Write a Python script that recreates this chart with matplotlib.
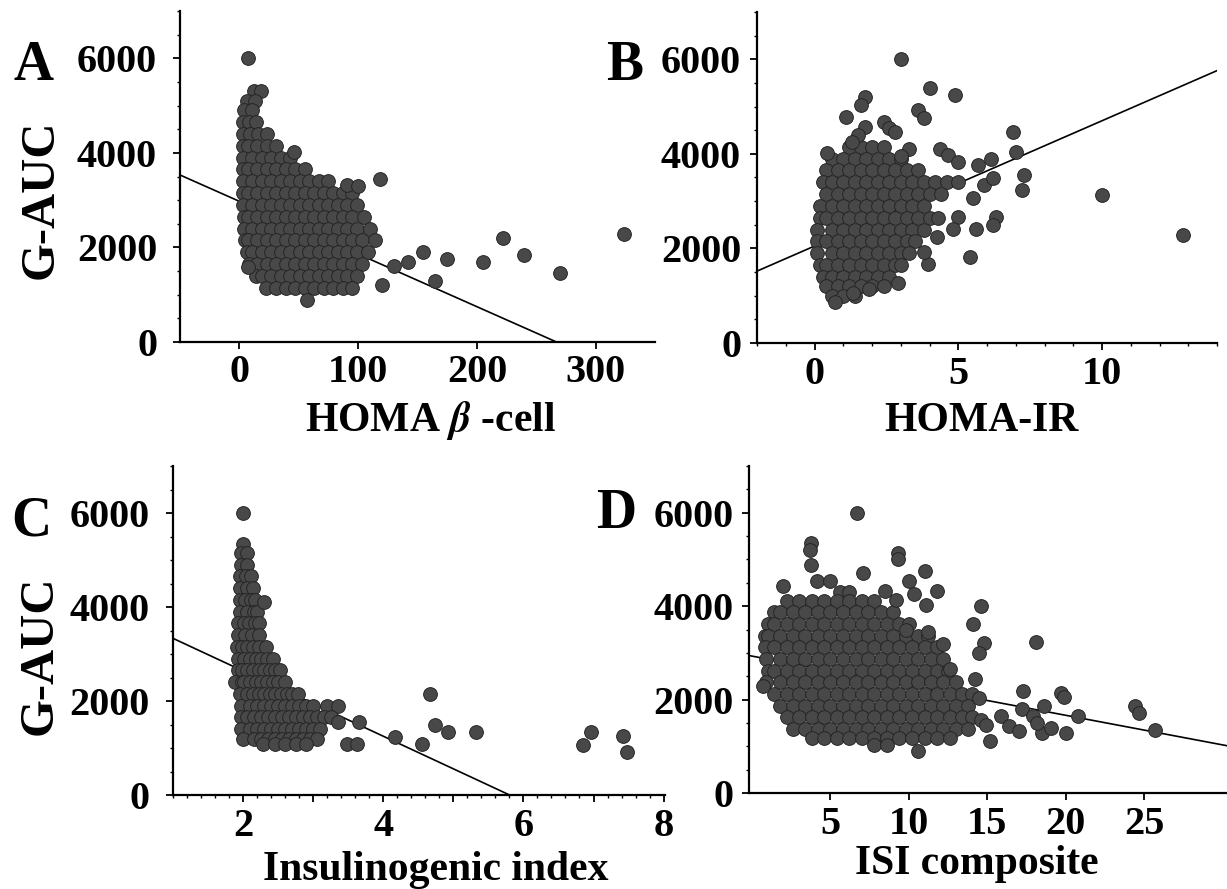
"""Four-panel scatter: G-AUC against HOMA beta-cell, HOMA-IR,
insulinogenic index and ISI composite, each with its regression line."""

import numpy as np
import matplotlib
matplotlib.use('Agg')
import matplotlib.pyplot as plt
from matplotlib.ticker import FixedLocator, MultipleLocator, FuncFormatter

plt.rcParams.update({
    'font.family': 'Liberation Serif',
    'font.weight': 'bold',
    'mathtext.fontset': 'stix',
})

W, H = 1227, 889

# ---------------------------------------------------------------------
# Panel A: HOMA beta-cell  (dense cloud read row by row + loose points)
# ---------------------------------------------------------------------
a_row_y = [5300, 5100, 4900, 4650, 4400, 4150, 3900, 3650, 3400, 3150,
           2900, 2650, 2400, 2150, 1900, 1650, 1400, 1150]
a_row_x = [
    [12, 18],
    [6, 13],
    [4, 11],
    [3, 8, 14],
    [3, 9, 16, 23],
    [3, 7, 15, 23, 31],
    [3, 11, 19, 27, 35, 43],
    [3, 7, 15, 23, 31, 39, 47, 55],
    [3, 11, 19, 27, 35, 43, 51, 59, 67, 75],
    [3, 7, 15, 23, 31, 39, 47, 55, 63, 71, 79, 87, 95],
    [3, 11, 19, 27, 35, 43, 51, 59, 67, 75, 83, 91, 99],
    [4, 7, 15, 23, 31, 39, 47, 55, 63, 71, 79, 87, 95, 105],
    [4, 11, 19, 27, 35, 43, 51, 59, 67, 75, 83, 91, 99, 110],
    [5, 7, 15, 23, 31, 39, 47, 55, 63, 71, 79, 87, 95, 103, 114],
    [6, 11, 19, 27, 35, 43, 51, 59, 67, 75, 83, 91, 99, 108],
    [8, 15, 23, 31, 39, 47, 55, 63, 71, 79, 87, 95, 103],
    [14, 19, 27, 35, 43, 51, 59, 67, 75, 83, 91, 99],
    [22, 31, 39, 47, 55, 63, 71, 79, 87, 95],
]
a_out_x = [7, 46, 57, 7, 91, 100, 118, 120, 130, 142, 155, 165, 175,
           205, 222, 240, 270, 324]
a_out_y = [6000, 4010, 880, 1580, 3310, 3300, 3450, 1200, 1600, 1700,
           1900, 1300, 1750, 1700, 2200, 1850, 1450, 2280]
a_fit = (2975, -11.14)

# ---------------------------------------------------------------------
# Panel B: HOMA-IR
# ---------------------------------------------------------------------
b_row_y = [4150, 3900, 3650, 3400, 3150, 2900, 2650, 2400, 2150, 1900,
           1650, 1400, 1200, 1000]
b_row_x = [
    [1.2, 1.6, 2.0, 2.4],
    [0.6, 1.0, 1.4, 1.8, 2.2, 2.6, 3.0],
    [0.4, 0.8, 1.2, 1.6, 2.0, 2.4, 2.8, 3.2, 3.6],
    [0.3, 0.6, 1.0, 1.4, 1.8, 2.2, 2.6, 3.0, 3.4, 3.8, 4.2, 4.6, 5.0],
    [0.4, 0.8, 1.2, 1.6, 2.0, 2.4, 2.8, 3.2, 3.6, 4.0, 4.4],
    [0.2, 0.6, 1.0, 1.4, 1.8, 2.2, 2.6, 3.0, 3.4, 3.8],
    [0.2, 0.4, 0.8, 1.2, 1.6, 2.0, 2.4, 2.8, 3.2, 3.6, 4.0, 4.3],
    [0.1, 0.6, 1.0, 1.4, 1.8, 2.2, 2.6, 3.0, 3.4, 3.8],
    [0.1, 0.4, 0.8, 1.2, 1.6, 2.0, 2.4, 2.8, 3.2, 3.5],
    [0.1, 0.6, 1.0, 1.4, 1.8, 2.2, 2.6, 3.0, 3.3],
    [0.2, 0.4, 0.8, 1.2, 1.6, 2.0, 2.4, 2.8, 3.0],
    [0.3, 0.6, 1.0, 1.4, 1.8, 2.2, 2.6],
    [0.4, 0.8, 1.2, 1.6, 2.0, 2.4],
    [0.6, 1.0, 1.4],
]
b_out_x = [3.0, 4.0, 4.9, 1.75, 1.6, 1.1, 3.6, 3.8, 2.4, 2.6, 2.8, 1.75,
           1.5, 1.3, 0.45, 6.9, 7.0, 4.35, 4.65, 5.0, 5.7, 6.15, 7.3, 7.2,
           10.0, 12.8, 5.4, 3.95, 6.3, 6.2, 5.6, 5.0, 5.5, 5.9, 6.2, 4.8,
           4.25, 3.8, 2.9, 1.9, 1.35, 0.7, 3.3, 3.0]
b_out_y = [6000, 5400, 5250, 5200, 5030, 4780, 4920, 4750, 4680, 4550,
           4460, 4570, 4390, 4250, 4010, 4460, 4040, 4110, 3970, 3830,
           3760, 3900, 3550, 3230, 3130, 2280, 1820, 1680, 2670, 2500,
           2420, 2670, 3060, 3340, 3480, 2420, 2250, 1930, 1260, 1150,
           1050, 870, 4100, 3950]
b_fit = (2050, 265.0)

# ---------------------------------------------------------------------
# Panel C: insulinogenic index
# ---------------------------------------------------------------------
c_row_y = [5350, 5150, 4900, 4650, 4400, 4150, 3900, 3650, 3400, 3150,
           2900, 2650, 2400, 2150, 1900, 1650, 1400, 1200, 1080]
c_row_x = [
    [2.0],
    [1.97, 2.05],
    [1.97, 2.06],
    [1.96, 2.04, 2.12],
    [1.96, 2.06, 2.14],
    [1.95, 2.03, 2.11, 2.17],
    [1.95, 2.05, 2.15, 2.2],
    [1.93, 2.01, 2.09, 2.17, 2.23],
    [1.93, 2.03, 2.13, 2.23],
    [1.92, 1.98, 2.06, 2.14, 2.22, 2.32],
    [1.93, 2.02, 2.1, 2.18, 2.26, 2.34, 2.42],
    [1.93, 1.98, 2.06, 2.14, 2.22, 2.3, 2.38, 2.46, 2.52],
    [1.88, 1.98, 2.02, 2.1, 2.18, 2.26, 2.34, 2.42, 2.5, 2.6],
    [1.95, 2.06, 2.14, 2.22, 2.3, 2.38, 2.46, 2.54, 2.62, 2.7, 2.78],
    [1.97, 2.1, 2.2, 2.3, 2.4, 2.5, 2.6, 2.7, 2.8, 2.9, 3.0, 3.2, 3.35],
    [1.97, 2.05, 2.15, 2.25, 2.35, 2.45, 2.55, 2.65, 2.75, 2.85, 2.95, 3.05,
     3.15, 3.25],
    [1.97, 2.1, 2.2, 2.3, 2.4, 2.5, 2.6, 2.7, 2.8, 2.9, 3.0, 3.1],
    [2.0, 2.15, 2.25, 2.35, 2.45, 2.55, 2.65, 2.75, 2.85, 2.95, 3.05],
    [2.28, 2.45, 2.6, 2.75, 2.9],
]
c_out_x = [2.0, 2.3, 3.65, 3.48, 3.63, 4.17, 4.55, 4.67, 4.74, 4.93, 5.33,
           6.85, 6.97, 7.42, 7.48, 3.35]
c_out_y = [6000, 4100, 1560, 1085, 1085, 1230, 1085, 2150, 1490, 1330,
           1330, 1060, 1340, 1250, 910, 1550]
c_fit = (4027, -694.0)

# ---------------------------------------------------------------------
# Panel D: ISI composite
# ---------------------------------------------------------------------
d_row_y = [4300, 4120, 3870, 3620, 3370, 3120, 2870, 2620, 2370, 2120,
           1870, 1620, 1370, 1170, 1030]
d_row_x = [
    [5.6, 6.2],
    [2.2, 3.0, 3.8, 4.6, 5.4, 6.2, 7.0, 7.8],
    [1.4, 1.8, 2.6, 3.4, 4.2, 5.0, 5.8, 6.6, 7.4, 8.2, 9.0],
    [1.0, 1.4, 2.2, 3.0, 3.8, 4.6, 5.4, 6.2, 7.0, 7.8, 8.6, 9.4, 10.0],
    [0.8, 1.0, 1.8, 2.6, 3.4, 4.2, 5.0, 5.8, 6.6, 7.4, 8.2, 9.0, 9.8, 10.6,
     11.2],
    [0.8, 1.4, 2.2, 3.0, 3.8, 4.6, 5.4, 6.2, 7.0, 7.8, 8.6, 9.4, 10.2, 11.0,
     11.8],
    [0.9, 1.8, 2.6, 3.4, 4.2, 5.0, 5.8, 6.6, 7.4, 8.2, 9.0, 9.8, 10.6, 11.4,
     12.2],
    [1.0, 1.4, 2.2, 3.0, 3.8, 4.6, 5.4, 6.2, 7.0, 7.8, 8.6, 9.4, 10.2, 11.0,
     11.8, 12.5],
    [0.9, 1.8, 2.6, 3.4, 4.2, 5.0, 5.8, 6.6, 7.4, 8.2, 9.0, 9.8, 10.6, 11.4,
     12.2, 13.0],
    [1.4, 2.2, 3.0, 3.8, 4.6, 5.4, 6.2, 7.0, 7.8, 8.6, 9.4, 10.2, 11.0, 11.8,
     12.6, 13.4, 14.0],
    [1.8, 2.6, 3.4, 4.2, 5.0, 5.8, 6.6, 7.4, 8.2, 9.0, 9.8, 10.6, 11.4, 12.2,
     13.0, 13.8],
    [2.2, 3.0, 3.8, 4.6, 5.4, 6.2, 7.0, 7.8, 8.6, 9.4, 10.2, 11.0, 11.8, 12.6,
     13.4, 14.0],
    [2.6, 3.4, 4.2, 5.0, 5.8, 6.6, 7.4, 8.2, 9.0, 9.8, 10.6, 11.4, 12.2, 13.0,
     13.8],
    [3.8, 4.6, 5.4, 6.2, 7.0, 7.8, 8.6, 9.4, 10.2, 11.0, 11.8, 12.6],
    [7.8, 8.6],
]
d_out_x = [6.7, 3.76, 3.7, 3.76, 2.0, 4.15, 5.0, 7.1, 9.3, 9.3, 11.0, 10.0,
           10.3, 11.8, 11.1, 8.5, 9.2, 14.6, 14.1, 14.8, 14.5, 18.1, 17.3,
           19.7, 19.9, 20.8, 24.4, 24.7, 25.7, 15.2, 10.6, 0.7, 15.9, 16.4,
           17.0, 17.2, 17.9, 18.5, 18.6, 19.1, 20.0, 18.2, 14.2, 14.5, 14.6,
           14.9, 12.2, 11.2, 12.6, 9.8]
d_out_y = [6000, 5360, 5210, 4890, 4430, 4540, 4540, 4710, 5140, 5000, 4750,
           4540, 4250, 4320, 4020, 4320, 4140, 4000, 3610, 3210, 3000, 3230,
           2180, 2140, 2050, 1640, 1860, 1710, 1340, 1110, 890, 2290, 1640,
           1430, 1320, 1790, 1640, 1290, 1860, 1390, 1290, 1500, 2430, 2040,
           1570, 1460, 3200, 3450, 2650, 3500]
d_fit = (2930, -63.3)

Y_TICKS = [0, 2000, 4000, 6000]


def build(row_y, row_x, out_x, out_y):
    xs, ys = [], []
    for y, xr in zip(row_y, row_x):
        xs += xr
        ys += [y] * len(xr)
    return np.array(xs + out_x, float), np.array(ys + out_y, float)


def px_rect(l, t, r, b):
    return [l / W, 1 - b / H, (r - l) / W, (b - t) / H]


def even_only(v, pos):
    return f'{int(round(v))}' if int(round(v)) % 2 == 0 else ''


panels = [
    dict(rect=px_rect(180, 11, 655, 342), data=(a_row_y, a_row_x, a_out_x, a_out_y),
         fit=a_fit, xlim=(-50, 350), xticks=[0, 100, 200, 300], xminor=None,
         ypad=11.5, letter='A', letter_xy=(33, 80), label='HOMA $\\beta$ -cell',
         label_xy=(430, 431), ylab_xy=(41, 199)),
    dict(rect=px_rect(757, 12, 1217, 343), data=(b_row_y, b_row_x, b_out_x, b_out_y),
         fit=b_fit, xlim=(-2, 14), xticks=[0, 5, 10], xminor=1,
         ypad=6.5, letter='B', letter_xy=(625, 80), label='HOMA-IR',
         label_xy=(981, 431), ylab_xy=None),
    dict(rect=px_rect(173, 466, 665, 795), data=(c_row_y, c_row_x, c_out_x, c_out_y),
         fit=c_fit, xlim=(1, 8.02), xticks=[2, 3, 4, 5, 6, 7, 8], xminor=0.2,
         ypad=12, letter='C', letter_xy=(31, 536), label='Insulinogenic index',
         label_xy=(436, 880), ylab_xy=(40, 655)),
    dict(rect=px_rect(749, 466, 1227, 793), data=(d_row_y, d_row_x, d_out_x, d_out_y),
         fit=d_fit, xlim=(-0.2, 30.3), xticks=[5, 10, 15, 20, 25], xminor=None,
         ypad=6, letter='D', letter_xy=(616, 528), label='ISI composite',
         label_xy=(977, 874), ylab_xy=None),
]

fig = plt.figure(figsize=(W / 100, H / 100), dpi=100)

for p in panels:
    ax = fig.add_axes(p['rect'])
    xs, ys = build(*p['data'])

    # regression line sits behind the dots
    x0, x1 = p['xlim']
    xx = np.array([x0, x1])
    b0, b1 = p['fit']
    ax.plot(xx, b0 + b1 * xx, color='black', lw=1.2, zorder=2)

    ax.scatter(xs, ys, s=98, c='#484848', edgecolors='#252525',
               linewidths=0.7, zorder=3)

    ax.set_xlim(*p['xlim'])
    ax.set_ylim(0, 7000)
    for side in ('top', 'right'):
        ax.spines[side].set_visible(False)
    for side in ('left', 'bottom'):
        ax.spines[side].set_linewidth(1.6)

    ax.yaxis.set_major_locator(FixedLocator(Y_TICKS))
    ax.yaxis.set_minor_locator(MultipleLocator(500))
    ax.xaxis.set_major_locator(FixedLocator(p['xticks']))
    if p['letter'] == 'C':
        ax.xaxis.set_major_formatter(FuncFormatter(even_only))
    if p['xminor']:
        ax.xaxis.set_minor_locator(MultipleLocator(p['xminor']))

    ax.tick_params(axis='y', which='major', direction='out', length=5,
                   width=1.3, labelsize=29, pad=p['ypad'])
    ax.tick_params(axis='x', which='major', direction='out', length=5,
                   width=1.3, labelsize=29, pad=4)
    ax.tick_params(which='minor', direction='out', length=2.5, width=1.0)
    for lab in ax.get_xticklabels() + ax.get_yticklabels():
        lab.set_fontweight('bold')

    lx, ly = p['letter_xy']
    fig.text(lx / W, 1 - ly / H, p['letter'], fontsize=40, ha='center',
             va='baseline', fontweight='bold')
    tx, ty = p['label_xy']
    fig.text(tx / W, 1 - ty / H, p['label'], fontsize=30, ha='center',
             va='baseline', fontweight='bold')
    if p['ylab_xy']:
        gx, gy = p['ylab_xy']
        fig.text(gx / W, 1 - gy / H, 'G-AUC', fontsize=35, rotation=90,
                 ha='center', va='center', fontweight='bold')

fig.savefig('out.png', dpi=100)
